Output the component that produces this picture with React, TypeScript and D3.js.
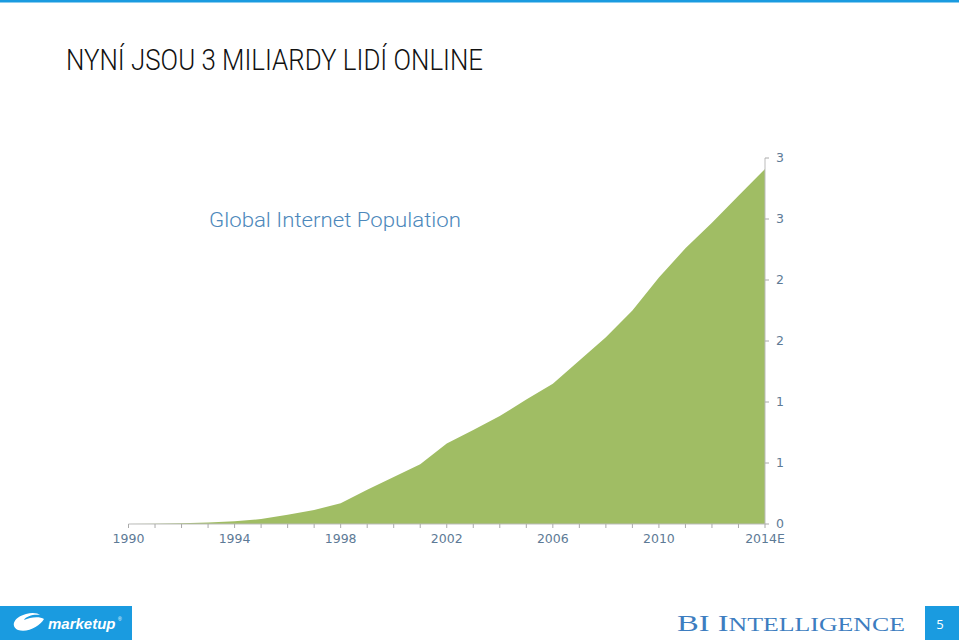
import React from "react";
import * as d3 from "d3";

const years = [1990,1991,1992,1993,1994,1995,1996,1997,1998,1999,2000,2001,2002,2003,2004,2005,2006,2007,2008,2009,2010,2011,2012,2013,2014];
const usersBn = [0.0,0.003,0.006,0.012,0.022,0.04,0.075,0.115,0.17,0.28,0.385,0.49,0.66,0.77,0.885,1.02,1.15,1.34,1.53,1.75,2.02,2.26,2.47,2.69,2.91];
const xTickYears = [1990,1994,1998,2002,2006,2010,2014];
const xTickLabels = ["1990","1994","1998","2002","2006","2010","2014E"];
const yTickValues = [0,0.5,1,1.5,2,2.5,3];
const yTickLabels = ["0","1","1","2","2","3","3"];

export default function App() {
  const W = 959, H = 642;
  const x = d3.scaleLinear().domain([1990, 2014]).range([128.5, 765]);
  const y = d3.scaleLinear().domain([0, 3]).range([524, 158]);
  const area = d3.area<number>()
    .x((_, i) => x(years[i]))
    .y0(y(0))
    .y1((d) => y(d));
  const tickColor = "#5d7a96";
  return (
    <svg width={W} height={H} style={{ position: "absolute", left: 0, top: 0, display: "block" }}>
      <rect x={0} y={0} width={W} height={H} fill="#fff" />
      <rect x={0} y={0} width={W} height={2.5} fill="#1a9be0" />
      <text x={66} y={70} fontFamily="Roboto" fontWeight={300} fontSize={29} fill="#111" textLength={417} lengthAdjust="spacingAndGlyphs">NYNÍ JSOU 3 MILIARDY LIDÍ ONLINE</text>
      <text x={209} y={227} fontFamily="Roboto" fontWeight={300} fontSize={20} fill="#4d88bb" textLength={252} lengthAdjust="spacingAndGlyphs">Global Internet Population</text>
      <path d={area(usersBn) || ""} fill="#a0bd64" />
      {/* x axis */}
      <line x1={x(1990)} x2={x(2014)} y1={y(0)} y2={y(0)} stroke="#bbb" strokeWidth={1} />
      {years.map((yr) => (
        <line key={yr} x1={x(yr)} x2={x(yr)} y1={y(0)} y2={y(0) + 4} stroke="#aaa" strokeWidth={1} />
      ))}
      {xTickYears.map((yr, i) => (
        <text key={yr} x={x(yr)} y={543} textAnchor="middle" fontFamily="DejaVu Sans" fontSize={12.5} fill={tickColor}>{xTickLabels[i]}</text>
      ))}
      {/* y axis */}
      <line x1={x(2014)} x2={x(2014)} y1={y(3)} y2={y(0)} stroke="#bbb" strokeWidth={1} />
      {yTickValues.map((v, i) => (
        <g key={i}>
          <line x1={x(2014)} x2={x(2014) + 4} y1={y(v)} y2={y(v)} stroke="#aaa" strokeWidth={1} />
          <text x={776} y={y(v) + 4} fontFamily="DejaVu Sans" fontSize={12.5} fill={tickColor}>{yTickLabels[i]}</text>
        </g>
      ))}
      {/* footer */}
      <rect x={0} y={606} width={132} height={34} fill="#1a9be0" />
      <path d="M18,630 C10,626 14,617 26,614 C32,612 38,613 40,615 C34,614 26,616 24,620 C30,617 40,616 44,619 C40,626 28,633 18,630 Z" fill="#fff" />
      <text x={48} y={629} fontFamily="Liberation Sans" fontStyle="italic" fontWeight={700} fontSize={15} fill="#fff">marketup</text>
      <text x={118} y={621} fontFamily="Liberation Sans" fontSize={5} fill="#fff">®</text>
      <text x={677} y={631} fontFamily="Liberation Serif" fontSize={24} fill="#3d7dc0" textLength={228} lengthAdjust="spacingAndGlyphs">
        <tspan>BI I</tspan><tspan fontSize={19}>NTELLIGENCE</tspan>
      </text>
      <rect x={925} y={606} width={34} height={34} fill="#1a9be0" />
      <text x={940} y={629} textAnchor="middle" fontFamily="Open Sans" fontSize={13} fill="#fff">5</text>
    </svg>
  );
}
